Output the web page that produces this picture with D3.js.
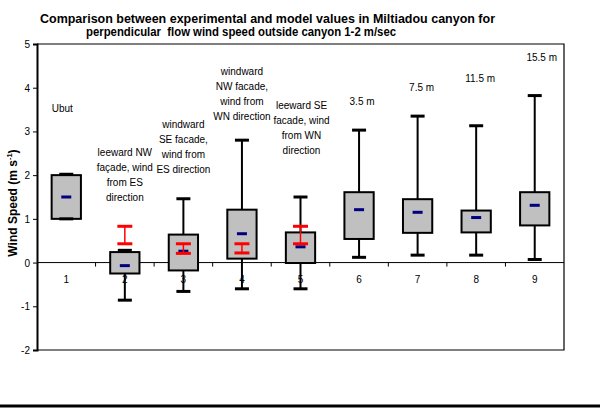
<!DOCTYPE html>
<html>
<head>
<meta charset="utf-8">
<script src="https://cdn.jsdelivr.net/npm/d3@7"></script>
<style>
  html, body { margin: 0; padding: 0; background: #fff; }
  svg { display: block; font-family: "Liberation Sans", Arial, sans-serif; }
</style>
</head>
<body>
<svg id="chart" width="600" height="414"></svg>
<script>
// Measured wind speed distribution per position (m/s)
const categories  = [1, 2, 3, 4, 5, 6, 7, 8, 9];
const whiskerLow  = [1.00, -0.86, -0.66, -0.60, -0.60, 0.12, 0.17, 0.17, 0.07];
const quartile1   = [1.00, -0.25, -0.18, 0.09, -0.01, 0.54, 0.68, 0.69, 0.85];
const medianVal   = [1.50, -0.07, 0.26, 0.66, 0.36, 1.21, 1.15, 1.03, 1.31];
const quartile3   = [2.00, 0.24, 0.64, 1.21, 0.69, 1.61, 1.45, 1.19, 1.61];
const whiskerHigh = [2.02, 0.28, 1.46, 2.80, 1.50, 3.03, 3.35, 3.13, 3.82];

// Model range (red bars) for the facade positions
const modelLow  = [null, 0.43, 0.21, 0.22, 0.43, null, null, null, null];
const modelHigh = [null, 0.83, 0.43, 0.43, 0.83, null, null, null, null];

const yTicks = [-2, -1, 0, 1, 2, 3, 4, 5];

const notes = [
  ["Ubut"],
  ["leeward NW", "façade, wind", "from ES", "direction"],
  ["windward", "SE facade,", "wind from", "ES direction"],
  ["windward", "NW facade,", "wind from", "WN direction"],
  ["leeward SE", "facade, wind", "from WN", "direction"],
  ["3.5 m"],
  ["7.5 m"],
  ["11.5 m"],
  ["15.5 m"]
];

const svg = d3.select("#chart");
const plotLeft = 37, plotRight = 564, plotTop = 44, plotBottom = 350;

const x = d3.scaleBand().domain(categories).range([plotLeft, plotRight]).padding(0);
const y = d3.scaleLinear().domain([-2, 5]).range([plotBottom, plotTop]);
const bw = x.bandwidth();
const cx = c => x(c) + bw / 2;

// Title
const title = svg.append("g").attr("font-weight", "bold").attr("font-size", 12).attr("fill", "#000");
title.append("text").attr("x", 40).attr("y", 23)
  .attr("textLength", 455).attr("lengthAdjust", "spacingAndGlyphs")
  .text("Comparison between experimental and model values in Miltiadou canyon for");
title.append("text").attr("x", 86).attr("y", 36).attr("xml:space", "preserve")
  .attr("textLength", 310).attr("lengthAdjust", "spacingAndGlyphs")
  .text("perpendicular  flow wind speed outside canyon 1-2 m/sec");

// Plot frame
svg.append("path")
  .attr("d", `M${plotLeft},${plotTop}H${plotRight}V${plotBottom}H${plotLeft}`)
  .attr("fill", "none").attr("stroke", "#000").attr("stroke-width", 1.2);

// Y axis
const yAxis = svg.append("g").attr("transform", `translate(${plotLeft},0)`)
  .call(d3.axisLeft(y).tickValues(yTicks).tickSize(4).tickFormat(d => String(d)));
yAxis.select(".domain").attr("stroke-width", 2);
yAxis.selectAll("line").attr("stroke-width", 1);
yAxis.selectAll("text").attr("font-size", 10).attr("font-family", "Liberation Sans, Arial, sans-serif")
  .attr("x", -7).attr("dy", "0.35em");

// Zero line with category separators
svg.append("line").attr("x1", plotLeft).attr("x2", plotRight).attr("y1", y(0)).attr("y2", y(0))
  .attr("stroke", "#000").attr("stroke-width", 1);
svg.append("g").selectAll("line").data(categories.slice(1)).join("line")
  .attr("x1", d => x(d)).attr("x2", d => x(d))
  .attr("y1", y(0)).attr("y2", y(0) + 4)
  .attr("stroke", "#000").attr("stroke-width", 1);

// Category labels
svg.append("g").selectAll("text").data(categories).join("text")
  .attr("x", d => cx(d)).attr("y", y(0) + 20)
  .attr("text-anchor", "middle").attr("font-size", 10).text(d => d);

// Y axis title
const yt = svg.append("text")
  .attr("transform", `translate(17,${(plotTop + plotBottom) / 2 + 6}) rotate(-90)`)
  .attr("text-anchor", "middle").attr("font-weight", "bold").attr("font-size", 12);
yt.append("tspan").text("Wind Speed (m s");
yt.append("tspan").attr("font-size", 7.5).attr("dy", -5).text("-1");
yt.append("tspan").attr("dy", 5).text(")");

// Box plots
const boxes = svg.append("g");
categories.forEach((c, i) => {
  const g = boxes.append("g");
  const xc = cx(c);
  const capW = 14;
  // whisker stem
  g.append("line").attr("x1", xc).attr("x2", xc)
    .attr("y1", y(whiskerLow[i])).attr("y2", y(whiskerHigh[i]))
    .attr("stroke", "#000").attr("stroke-width", 2);
  // box
  g.append("rect")
    .attr("x", xc - bw / 4).attr("width", bw / 2)
    .attr("y", y(quartile3[i])).attr("height", y(quartile1[i]) - y(quartile3[i]))
    .attr("fill", "#c0c0c0").attr("stroke", "#000").attr("stroke-width", 2);
  // whisker caps
  [whiskerLow[i], whiskerHigh[i]].forEach(v => {
    g.append("line").attr("x1", xc - capW / 2).attr("x2", xc + capW / 2)
      .attr("y1", y(v)).attr("y2", y(v))
      .attr("stroke", "#000").attr("stroke-width", 3);
  });
  // median
  g.append("line").attr("x1", xc - 5).attr("x2", xc + 5)
    .attr("y1", y(medianVal[i])).attr("y2", y(medianVal[i]))
    .attr("stroke", "#000080").attr("stroke-width", 3);
  // model range
  if (modelLow[i] != null) {
    const rw = 15;
    g.append("line").attr("x1", xc).attr("x2", xc)
      .attr("y1", y(modelLow[i])).attr("y2", y(modelHigh[i]))
      .attr("stroke", "#ff0000").attr("stroke-width", 1.5);
    [modelLow[i], modelHigh[i]].forEach(v => {
      g.append("line").attr("x1", xc - rw / 2).attr("x2", xc + rw / 2)
        .attr("y1", y(v)).attr("y2", y(v))
        .attr("stroke", "#ff0000").attr("stroke-width", 3);
    });
  }
});

// Annotation layout: first-line baseline (axis units) and horizontal nudge
const noteY  = [3.45, 2.43, 3.08, 4.30, 3.51, 3.60, 3.93, 4.13, 4.60];
const noteDx = [-4, 0, 0, 0, 1, 3, 4, 4, 7];
const ann = svg.append("g").attr("font-size", 10).attr("text-anchor", "middle");
notes.forEach((lines, i) => {
  const t = ann.append("text").attr("x", cx(categories[i]) + noteDx[i]).attr("y", y(noteY[i]));
  lines.forEach((s, k) => {
    t.append("tspan").attr("x", cx(categories[i]) + noteDx[i]).attr("dy", k === 0 ? 0 : 15).text(s);
  });
});

// Page rule below the chart
svg.append("line").attr("x1", 0).attr("x2", 600).attr("y1", 406).attr("y2", 406)
  .attr("stroke", "#000").attr("stroke-width", 3);
</script>
</body>
</html>
